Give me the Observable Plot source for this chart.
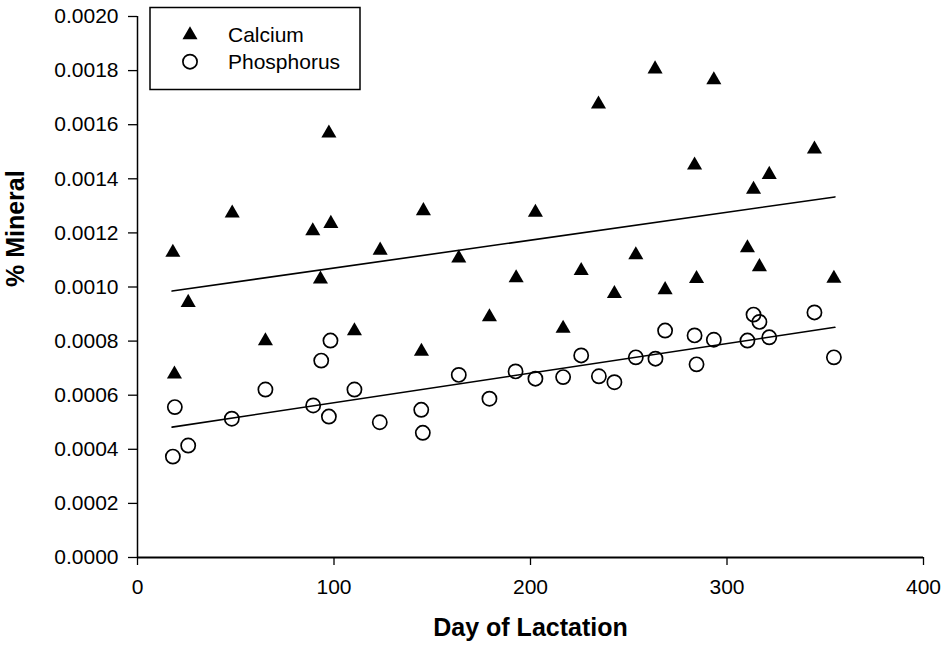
<!DOCTYPE html>
<html><head><meta charset="utf-8">
<script src="https://cdn.jsdelivr.net/npm/d3@7"></script>
<script src="https://cdn.jsdelivr.net/npm/@observablehq/plot@0.6"></script>
<style>
body{margin:0;background:#fff;font-family:"Liberation Sans",Arial,sans-serif;}
#wrap{position:relative;width:943px;height:648px;}
#legend{position:absolute;left:0;top:0;pointer-events:none;}
</style></head><body>
<div id="wrap"><div id="chart"></div><svg id="legend" width="943" height="648"></svg></div>
<script>
const calciumDays = [18.0, 18.8, 25.8, 48.2, 65.1, 89.2, 93.1, 97.4, 98.4, 110.4, 123.5, 144.5, 145.5, 163.5, 179.1, 192.7, 202.5, 216.6, 225.8, 234.6, 242.7, 253.6, 263.4, 268.5, 283.5, 284.5, 293.3, 310.4, 313.5, 316.5, 321.5, 344.5, 354.4];
const calcium = [0.001135, 0.000685, 0.00095, 0.00128, 0.000808, 0.001215, 0.001036, 0.001576, 0.001242, 0.000845, 0.001143, 0.000769, 0.001289, 0.001114, 0.000897, 0.001041, 0.001283, 0.000854, 0.001068, 0.001683, 0.000983, 0.001126, 0.001813, 0.000997, 0.001458, 0.001038, 0.001773, 0.001152, 0.001368, 0.001082, 0.001423, 0.001517, 0.001039];

const phosphorusDays = [18.0, 19.0, 25.8, 48.0, 65.1, 89.4, 93.5, 97.4, 98.2, 110.4, 123.3, 144.4, 145.2, 163.5, 179.1, 192.4, 202.5, 216.6, 225.8, 234.8, 242.7, 253.6, 263.6, 268.5, 283.5, 284.5, 293.3, 310.4, 313.5, 316.5, 321.5, 344.5, 354.4];
const phosphorus = [0.000373, 0.000556, 0.000414, 0.000513, 0.000621, 0.000562, 0.000728, 0.000521, 0.000802, 0.000621, 0.0005, 0.000546, 0.000461, 0.000675, 0.000587, 0.000688, 0.000661, 0.000667, 0.000747, 0.00067, 0.000648, 0.00074, 0.000735, 0.000839, 0.000821, 0.000714, 0.000805, 0.000802, 0.000898, 0.000871, 0.000814, 0.000906, 0.00074];

const fitDays = [17.6, 354.9];
const calciumFit = [0.000985, 0.001333];
const phosphorusFit = [0.000482, 0.000851];

const xTicks = [0, 100, 200, 300, 400];
const yTicks = [0, 0.0002, 0.0004, 0.0006, 0.0008, 0.0010, 0.0012, 0.0014, 0.0016, 0.0018, 0.0020];
const seriesNames = ["Calcium", "Phosphorus"];
const xTitle = "Day of Lactation";
const yTitle = "% Mineral";

const caData = calciumDays.map((d, i) => ({day: d, value: calcium[i]}));
const pData = phosphorusDays.map((d, i) => ({day: d, value: phosphorus[i]}));
const caFitData = fitDays.map((d, i) => ({day: d, value: calciumFit[i]}));
const pFitData = fitDays.map((d, i) => ({day: d, value: phosphorusFit[i]}));

const chart = Plot.plot({
  width: 943, height: 648,
  marginLeft: 137, marginRight: 20, marginTop: 16, marginBottom: 91,
  style: {fontFamily: "'Liberation Sans', Arial, sans-serif", color: "black", background: "white", overflow: "visible"},
  x: {domain: [0, 400]},
  y: {domain: [0, 0.002]},
  marks: [
    Plot.axisY({ticks: yTicks, tickFormat: d3.format(".4f"), tickSize: 9, tickPadding: 10, fontSize: 21, label: null, strokeWidth: 1.3}),
    Plot.axisX({ticks: xTicks, tickSize: 8, tickPadding: 14, fontSize: 21, label: null, strokeWidth: 1.3}),
    Plot.ruleX([0], {strokeWidth: 1.5}),
    Plot.ruleY([0], {strokeWidth: 1.8}),
    Plot.line(caFitData, {x: "day", y: "value", stroke: "black", strokeWidth: 1.6}),
    Plot.line(pFitData, {x: "day", y: "value", stroke: "black", strokeWidth: 1.6}),
    Plot.dot(pData, {x: "day", y: "value", symbol: "circle", r: 7.1, fill: "none", stroke: "black", strokeWidth: 1.7}),
    Plot.dot(caData, {x: "day", y: "value", symbol: "triangle", r: 5.6, fill: "black", stroke: "none", dy: 2}),
    Plot.text([xTitle], {frameAnchor: "bottom", dy: 78, fontSize: 25, fontWeight: "bold"}),
    Plot.text([yTitle], {frameAnchor: "left", dx: -122, rotate: -90, fontSize: 25, fontWeight: "bold"})
  ]
});
document.getElementById("chart").appendChild(chart);

// legend
const lg = d3.select("#legend");
lg.append("rect").attr("x", 150).attr("y", 7.5).attr("width", 210).attr("height", 82)
  .attr("fill", "white").attr("stroke", "black").attr("stroke-width", 1.5);
lg.append("path").attr("d", d3.symbol(d3.symbolTriangle, 5.6 * 5.6 * Math.PI)())
  .attr("transform", "translate(190,35)").attr("fill", "black");
lg.append("circle").attr("cx", 190).attr("cy", 61.7).attr("r", 7.1)
  .attr("fill", "none").attr("stroke", "black").attr("stroke-width", 1.7);
lg.selectAll("text.l").data(seriesNames).join("text")
  .attr("x", 228).attr("y", (d, i) => i === 0 ? 42 : 69)
  .attr("font-size", 21).attr("font-family", "'Liberation Sans', Arial, sans-serif")
  .text(d => d);
</script></body></html>
